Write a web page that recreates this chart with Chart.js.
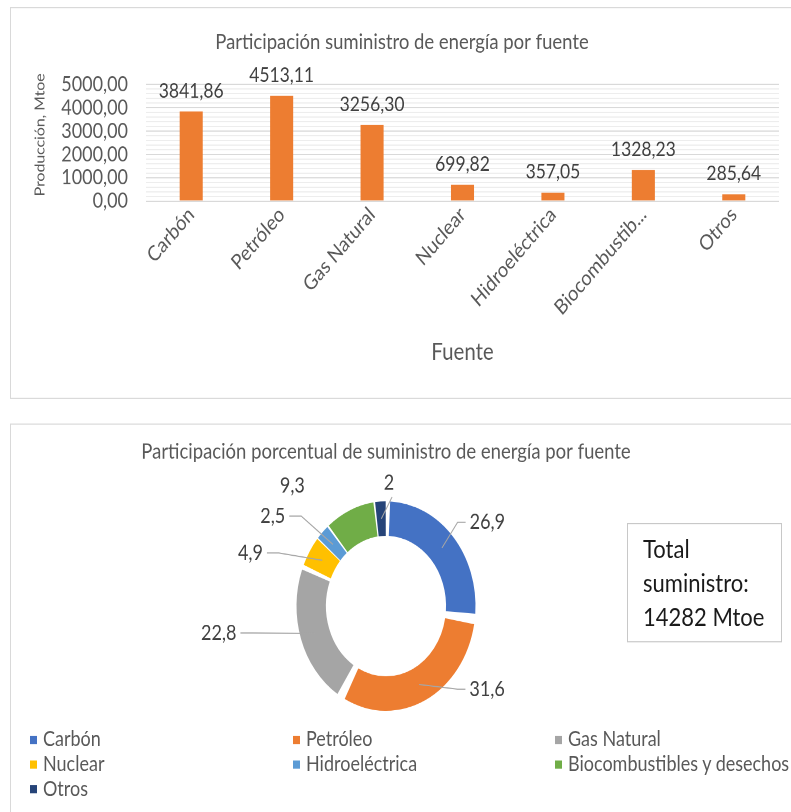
<!DOCTYPE html>
<html lang="es">
<head>
  <meta charset="UTF-8">
  <title>Suministro de energía por fuente</title>
  <script src="https://cdn.jsdelivr.net/npm/chart.js@4"></script>
  <style>
    html, body {
      margin: 0;
      padding: 0;
      height: 812px;
      background: #ffffff;
      font-family: 'Lato', sans-serif;
    }
    /* the whole sheet is laid out flat and stretched vertically */
    #page {
      position: relative;
      width: 791px;
      height: 694px;
      transform: scaleY(1.17);
      transform-origin: 0 0;
      overflow: hidden;
    }
    .box {
      position: absolute;
      border: 1px solid #d9d9d9;
      box-sizing: border-box;
    }
    canvas {
      position: absolute;
    }
    #totalBox {
      position: absolute;
      left: 627px;
      top: 447px;
      width: 155px;
      height: 102px;
      box-sizing: border-box;
      border: 1px solid #c8c8c8;
      padding: 6px 0 0 15px;
      font-size: 22px;
      line-height: 29px;
      color: #1a1a1a;
    }
    #legend {
      position: absolute;
      left: 30px;
      top: 620px;
      display: grid;
      grid-template-columns: 263px 262px auto;
      grid-auto-rows: 21px;
      font-size: 18px;
      color: #595959;
      white-space: nowrap;
    }
    #legend span.mk {
      display: inline-block;
      width: 7px;
      height: 7px;
      margin-right: 6px;
      vertical-align: 2px;
    }
  </style>
</head>
<body>
  <div id="page">
    <div class="box" style="left:10px; top:6px; width:800px; height:335px;"></div>
    <canvas id="barChart" width="779" height="333" style="left:11px; top:7px;"></canvas>

    <div class="box" style="left:10px; top:361.5px; width:800px; height:400px;"></div>
    <canvas id="pieChart" width="750" height="332" style="left:11px; top:362px;"></canvas>

    <div id="totalBox"></div>
    <div id="legend"></div>
  </div>

  <script>
    const fuentes = ["Carbón", "Petróleo", "Gas Natural", "Nuclear", "Hidroeléctrica", "Biocombustibles y desechos", "Otros"];
    const produccion = [3841.86, 4513.11, 3256.30, 699.82, 357.05, 1328.23, 285.64];
    const participacion = [26.9, 31.6, 22.8, 4.9, 2.5, 9.3, 2];
    const colores = ["#4472C4", "#ED7D31", "#A5A5A5", "#FFC000", "#5B9BD5", "#70AD47", "#264478"];

    Chart.defaults.font.family = "Lato";
    Chart.defaults.color = "#595959";

    const coma = (v, d) => (d === undefined ? String(v) : v.toFixed(d)).replace(".", ",");

    // value labels on top of each bar, plus the vertical axis title
    const barValues = {
      id: "barValues",
      afterDatasetsDraw(chart) {
        const ctx = chart.ctx;
        ctx.save();
        ctx.font = "17.5px Lato";
        ctx.fillStyle = "#404040";
        ctx.textAlign = "center";
        ctx.textBaseline = "alphabetic";
        chart.getDatasetMeta(0).data.forEach((bar, i) => {
          ctx.fillText(coma(produccion[i], 2), bar.x, bar.y - 12);
        });

        ctx.font = "13.5px Lato";
        ctx.fillStyle = "#595959";
        ctx.textBaseline = "middle";
        ctx.translate(29, chart.chartArea.top + 43);
        ctx.rotate(-Math.PI / 2);
        ctx.fillText("Producción, Mtoe", 0, 0);
        ctx.restore();
      }
    };

    new Chart(document.getElementById("barChart"), {
      type: "bar",
      data: {
        labels: fuentes,
        datasets: [{
          data: produccion,
          backgroundColor: "#ED7D31",
          categoryPercentage: 1,
          barPercentage: 0.255
        }]
      },
      options: {
        responsive: false,
        animation: false,
        devicePixelRatio: 2,
        layout: { padding: { left: 14, right: 11, top: 0, bottom: 23.6 } },
        plugins: {
          legend: { display: false },
          tooltip: { enabled: false },
          title: {
            display: true,
            text: "Participación suministro de energía por fuente",
            color: "#595959",
            font: { size: 18.5, weight: "normal" },
            padding: { top: 18, bottom: 25 }
          }
        },
        scales: {
          x: {
            grid: { display: false },
            border: { display: false },
            ticks: {
              autoSkip: false,
              minRotation: 45,
              maxRotation: 45,
              padding: -7,
              color: "#595959",
              font: { size: 18 },
              callback: function (v) {
                const l = this.getLabelForValue(v);
                return l.length > 14 ? l.slice(0, 12) + "..." : l;
              }
            },
            title: {
              display: true,
              text: "Fuente",
              color: "#595959",
              font: { size: 20.5 },
              padding: { top: 0, bottom: 3 }
            },
            afterFit: s => { s.height = 144.6; }
          },
          y: {
            min: 0,
            max: 5000,
            border: { display: false },
            grid: {
              drawTicks: false,
              color: c => c.tick.value % 1000 === 0 ? "#d9d9d9" : "#ededed"
            },
            ticks: {
              stepSize: 200,
              autoSkip: false,
              padding: 18,
              color: "#595959",
              font: { size: 18 },
              callback: v => v % 1000 === 0 ? coma(v, 2) : ""
            },
            afterFit: s => { s.width = 121; }
          }
        }
      },
      plugins: [barValues]
    });

    // where each percentage label sits relative to the middle of its slice
    const labelLayout = [
      { dx: 45.4, dy: -22, leader: "left" },
      { dx: 68, dy: 4, leader: "left" },
      { dx: -96.3, dy: -0.6, leader: "right" },
      { dx: -71.8, dy: -6.3, leader: "right" },
      { dx: -60.2, dy: -24.2, leader: "right" },
      { dx: -63.3, dy: -34.6, leader: null },
      { dx: 7.7, dy: -30.5, leader: "below" }
    ];

    const pctLabels = {
      id: "pctLabels",
      afterDatasetsDraw(chart) {
        const ctx = chart.ctx;
        ctx.save();
        ctx.font = "18px Lato";
        ctx.textAlign = "center";
        ctx.textBaseline = "middle";
        ctx.lineWidth = 1;
        chart.getDatasetMeta(0).data.forEach((arc, i) => {
          const p = arc.tooltipPosition();
          const lay = labelLayout[i];
          const txt = coma(participacion[i]);
          const lx = p.x + lay.dx, ly = p.y + lay.dy;
          const hw = ctx.measureText(txt).width / 2;
          ctx.strokeStyle = "#a6a6a6";
          ctx.beginPath();
          if (lay.leader === "left") {
            const ex = lx - hw - 4;
            ctx.moveTo(p.x, p.y);
            ctx.lineTo(ex - 8, ly);
            ctx.lineTo(ex, ly);
          } else if (lay.leader === "right") {
            const ex = lx + hw + 4;
            ctx.moveTo(p.x, p.y);
            ctx.lineTo(ex + 12, ly);
            ctx.lineTo(ex, ly);
          } else if (lay.leader === "below") {
            ctx.moveTo(p.x, p.y);
            ctx.lineTo(lx + 3, ly + 12);
          }
          ctx.stroke();
          ctx.fillStyle = "#404040";
          ctx.fillText(txt, lx, ly);
        });
        ctx.restore();
      }
    };

    new Chart(document.getElementById("pieChart"), {
      type: "doughnut",
      data: {
        labels: fuentes,
        datasets: [{
          data: participacion,
          backgroundColor: colores,
          borderWidth: 0,
          spacing: 8
        }]
      },
      options: {
        responsive: false,
        animation: false,
        devicePixelRatio: 2,
        radius: 85.5,
        cutout: 64.5,
        layout: { padding: { left: 0, right: 0, top: 0, bottom: 73.6 } },
        plugins: {
          legend: { display: false },
          tooltip: { enabled: false },
          title: {
            display: true,
            text: "Participación porcentual de suministro de energía por fuente",
            color: "#595959",
            font: { size: 18.5, weight: "normal" },
            padding: { top: 12.9, bottom: 18.5 }
          }
        }
      },
      plugins: [pctLabels]
    });

    // total supply box
    const total = Math.round(produccion.reduce((a, b) => a + b, 0));
    document.getElementById("totalBox").innerHTML =
      "Total<br>suministro:<br>" + total + " Mtoe";

    // legend in three columns
    const legend = document.getElementById("legend");
    fuentes.forEach((f, i) => {
      const item = document.createElement("div");
      item.innerHTML = '<span class="mk" style="background:' + colores[i] + '"></span>' + f;
      legend.appendChild(item);
    });
  </script>
</body>
</html>
